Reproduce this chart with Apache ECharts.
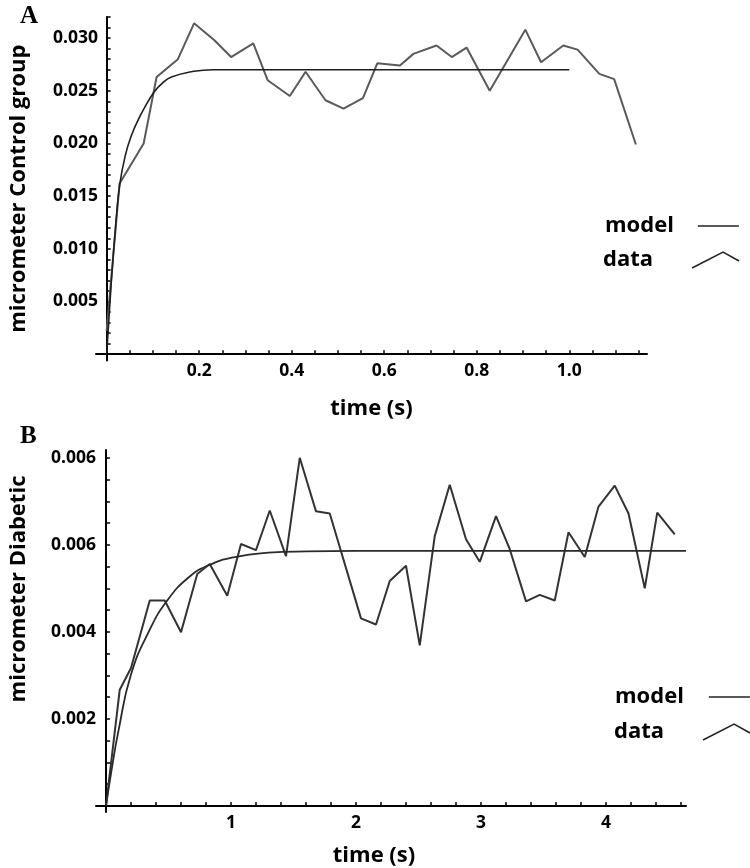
<!DOCTYPE html>
<html><head><meta charset="utf-8">
<script src="https://cdn.jsdelivr.net/npm/echarts@6/dist/echarts.min.js"></script>
<style>html,body{margin:0;padding:0;background:#fff}#c{width:750px;height:868px}</style>
</head><body><div id="c"></div>
<script>
// ---- Panel A: control group ----
const dataA = [[0,0.0022],[0.028,0.0162],[0.080,0.0200],[0.108,0.0263],[0.154,0.0280],[0.189,0.0314],[0.233,0.0298],[0.269,0.0282],[0.317,0.0295],[0.348,0.0260],[0.396,0.0245],[0.430,0.0268],[0.473,0.0241],[0.512,0.0233],[0.554,0.0243],[0.585,0.0276],[0.634,0.0274],[0.663,0.0285],[0.713,0.0293],[0.746,0.0282],[0.778,0.0291],[0.828,0.0250],[0.905,0.0308],[0.939,0.0277],[0.987,0.0293],[1.018,0.0289],[1.065,0.0266],[1.097,0.0261],[1.144,0.0199]];
const modelA = [[0,0],[0.01,0.0068],[0.02,0.0125],[0.028,0.0160],[0.04,0.0188],[0.054,0.0208],[0.07,0.0224],[0.082,0.0234],[0.103,0.0249],[0.12,0.0257],[0.14,0.0263],[0.183,0.0268],[0.23,0.0270],[0.3,0.0270],[1.0,0.0270]];
const xLabelsA = [0.2,0.4,0.6,0.8,1.0];
const yLabelsA = [0.005,0.010,0.015,0.020,0.025,0.030];
// ---- Panel B: diabetic ----
const dataB = [[0,0],[0.11,0.00267],[0.20,0.00317],[0.35,0.00472],[0.47,0.00472],[0.60,0.00399],[0.73,0.00533],[0.83,0.00556],[0.97,0.00483],[1.08,0.00602],[1.20,0.00588],[1.31,0.00679],[1.44,0.00574],[1.55,0.00800],[1.68,0.00677],[1.79,0.00672],[2.04,0.00431],[2.16,0.00417],[2.27,0.00517],[2.40,0.00552],[2.51,0.00369],[2.63,0.00620],[2.75,0.00738],[2.88,0.00613],[2.99,0.00561],[3.12,0.00666],[3.23,0.00590],[3.36,0.00470],[3.47,0.00485],[3.59,0.00472],[3.70,0.00629],[3.83,0.00572],[3.94,0.00688],[4.07,0.00736],[4.18,0.00672],[4.31,0.00500],[4.41,0.00674],[4.55,0.00624]];
const modelB = [[0,0],[0.05,0.00092],[0.10,0.00173],[0.20,0.00302],[0.35,0.00405],[0.49,0.00472],[0.66,0.00525],[0.82,0.00553],[1.03,0.00572],[1.30,0.00582],[1.60,0.00585],[2.0,0.00586],[4.64,0.00586]];
const xLabelsB = [1,2,3,4];
const yLabelValuesB = [0.002,0.004,0.006,0.008];
const yLabelTextsB = ['0.002','0.004','0.006','0.006'];
const legendNames = ['model','data'];

function steps(from, to, step){const r=[];for(let v=from; v<=to+step/1000; v+=step) r.push(+v.toFixed(6));return r;}

const FONT = 'Open Sans';
const axisCommon = {
  type:'value', splitLine:{show:false},
  axisLine:{onZero:true, lineStyle:{color:'#000', width:2}},
  axisTick:{inside:true, length:4, lineStyle:{color:'#000', width:1.5}},
  nameTextStyle:{fontFamily:FONT, fontWeight:'bold', fontSize:22, color:'#000'}
};
function lbl(extra){return Object.assign({fontFamily:FONT, fontWeight:'bold', fontSize:17.5, color:'#000'}, extra);}

const chart = echarts.init(document.getElementById('c'), null, {renderer:'canvas'});
const legendBase = {orient:'horizontal', align:'right', padding:0, selectedMode:false, itemGap:0};
function legendItem(name, left, top, w, h, padR, icon){
  const d = {name:name};
  if (icon === 'rect') { d.icon = 'rect'; d.itemStyle = {color:'#222', borderWidth:0}; }
  else if (icon) { d.icon = icon; d.itemStyle = {color:'none', borderColor:'#222', borderWidth:1.5}; }
  return Object.assign({}, legendBase, {
    data:[d], left:left, top:top, itemWidth:w, itemHeight:h,
    textStyle:{fontFamily:FONT, fontWeight:'bold', fontSize:22, color:'#000', lineHeight:24, padding:[0,padR,0,0]}
  });
}
const caret = 'path://M0,16L31,0L47,9';

chart.setOption({
  animation:false,
  backgroundColor:'#fff',
  title:[
    {text:'A', left:20, top:4, padding:0, textStyle:{fontFamily:'Liberation Serif', fontWeight:'bold', fontSize:25, color:'#000'}},
    {text:'B', left:20, top:424, padding:0, textStyle:{fontFamily:'Liberation Serif', fontWeight:'bold', fontSize:25, color:'#000'}}
  ],
  legend:[
    legendItem(legendNames[0], 605, 214, 41, 1.6, 19, 'rect'),
    legendItem(legendNames[1], 603, 248, 47, 16, 34, caret),
    legendItem(legendNames[0], 615, 685, 41, 1.6, 20, 'rect'),
    legendItem(legendNames[1], 614, 720, 47, 16, 34, caret)
  ],
  grid:[
    {left:93, top:17, width:554, height:343.5},
    {left:94, top:450, width:592, height:365}
  ],
  xAxis:[
    Object.assign({}, axisCommon, {gridIndex:0, min:-0.023, max:1.168,
      axisTick:Object.assign({}, axisCommon.axisTick, {customValues:steps(0.05,1.15,0.05)}),
      axisLabel:lbl({customValues:xLabelsA, margin:2, formatter:v=>v.toFixed(1)}),
      name:'time (s)', nameLocation:'middle', nameGap:37}),
    Object.assign({}, axisCommon, {gridIndex:1, min:-0.08, max:4.64,
      axisTick:Object.assign({}, axisCommon.axisTick, {customValues:steps(0.2,4.6,0.2)}),
      axisLabel:lbl({customValues:xLabelsB, margin:2, formatter:v=>String(Math.round(v))}),
      name:'time (s)', nameLocation:'middle', nameGap:33,
      nameTextStyle:Object.assign({}, axisCommon.nameTextStyle, {padding:[0,34,0,0]})})
  ],
  yAxis:[
    Object.assign({}, axisCommon, {gridIndex:0, min:-0.0006, max:0.032,
      axisTick:Object.assign({}, axisCommon.axisTick, {customValues:steps(0.001,0.032,0.001)}),
      axisLabel:lbl({customValues:yLabelsA, margin:-2, formatter:v=>v.toFixed(3)}),
      name:'micrometer Control group', nameLocation:'middle', nameGap:66}),
    Object.assign({}, axisCommon, {gridIndex:1, min:-0.00014, max:0.00818,
      axisTick:Object.assign({}, axisCommon.axisTick, {customValues:steps(0.0005,0.008,0.0005)}),
      axisLabel:lbl({customValues:yLabelValuesB, margin:0, formatter:v=>yLabelTextsB[yLabelValuesB.findIndex(x=>Math.abs(x-v)<1e-9)] || ''}),
      name:'micrometer Diabetic', nameLocation:'middle', nameGap:66,
      nameTextStyle:Object.assign({}, axisCommon.nameTextStyle, {padding:[0,0,0,84]})})
  ],
  series:[
    {name:'data', type:'line', xAxisIndex:0, yAxisIndex:0, data:dataA, symbol:'none', lineStyle:{color:'#5a5a5a', width:2}, itemStyle:{color:'#5a5a5a'}, z:2},
    {name:'model', type:'line', xAxisIndex:0, yAxisIndex:0, data:modelA, symbol:'none', smooth:true, lineStyle:{color:'#1e1e1e', width:1.6}, itemStyle:{color:'#1e1e1e'}, z:3},
    {name:'data', type:'line', xAxisIndex:1, yAxisIndex:1, data:dataB, symbol:'none', lineStyle:{color:'#333', width:2}, itemStyle:{color:'#333'}, z:2},
    {name:'model', type:'line', xAxisIndex:1, yAxisIndex:1, data:modelB, symbol:'none', smooth:true, lineStyle:{color:'#2a2a2a', width:1.8}, itemStyle:{color:'#2a2a2a'}, z:3}
  ]
});
</script></body></html>
